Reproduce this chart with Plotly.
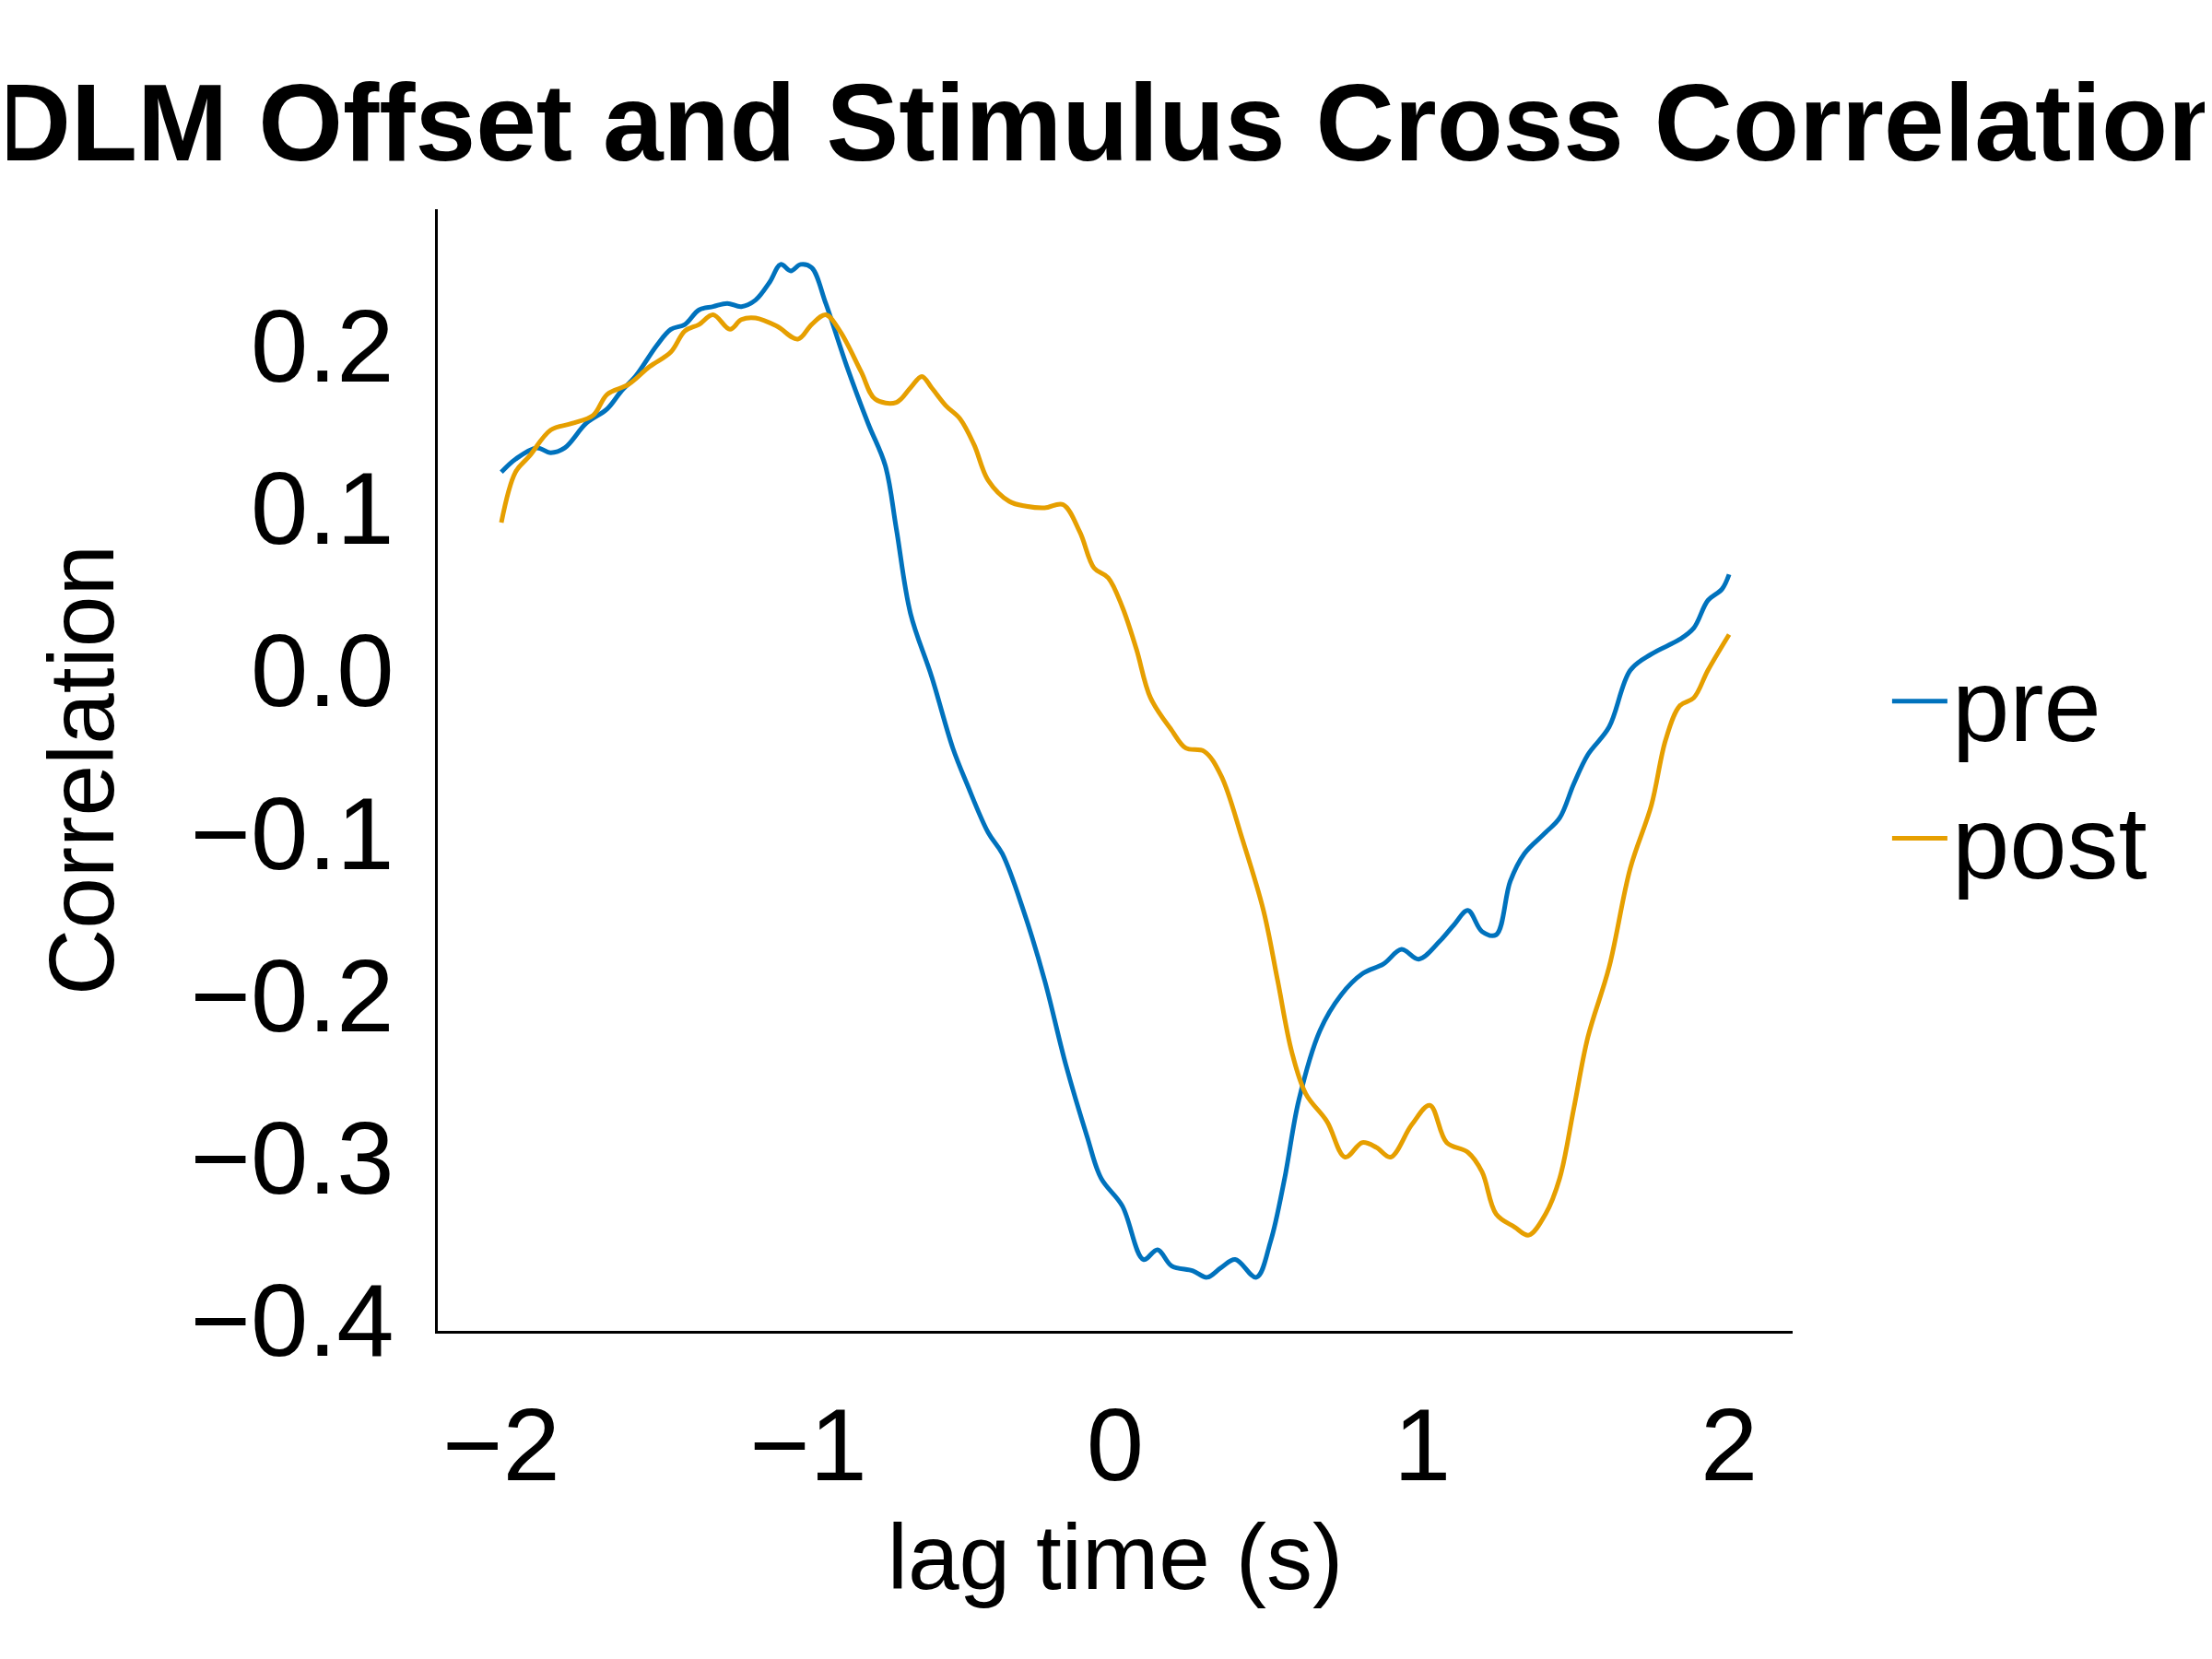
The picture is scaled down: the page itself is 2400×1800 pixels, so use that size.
import plotly.graph_objects as go

pre_t = [-2.00, -1.954, -1.885, -1.839, -1.793, -1.724, -1.655, -1.609, -1.563, -1.494, -1.448, -1.402,
         -1.356, -1.310, -1.264, -1.218, -1.172, -1.126, -1.090, -1.057, -1.025, -0.989, -0.943, -0.874,
         -0.805, -0.749, -0.713, -0.667, -0.598, -0.529, -0.483, -0.414, -0.368, -0.299, -0.230, -0.161,
         -0.092, -0.046, 0.023, 0.092, 0.138, 0.184, 0.253, 0.299, 0.345, 0.391, 0.460, 0.506, 0.552,
         0.598, 0.667, 0.736, 0.805, 0.874, 0.933, 0.989, 1.057, 1.103, 1.149, 1.195, 1.241, 1.287,
         1.333, 1.402, 1.448, 1.494, 1.540, 1.609, 1.678, 1.747, 1.839, 1.885, 1.931, 1.977, 2.000]
pre_r = [0.122, 0.130, 0.137, 0.134, 0.137, 0.152, 0.161, 0.172, 0.181, 0.200, 0.210, 0.213,
         0.222, 0.224, 0.226, 0.224, 0.228, 0.239, 0.250, 0.246, 0.250, 0.248, 0.226, 0.187,
         0.152, 0.126, 0.087, 0.035, -0.004, -0.048, -0.070, -0.100, -0.113, -0.148, -0.191, -0.243,
         -0.287, -0.313, -0.330, -0.363, -0.357, -0.367, -0.370, -0.374, -0.368, -0.363, -0.374, -0.352, -0.313,
         -0.265, -0.222, -0.200, -0.187, -0.181, -0.172, -0.178, -0.167, -0.157, -0.148, -0.161, -0.163, -0.130,
         -0.113, -0.100, -0.091, -0.070, -0.052, -0.035, 0.000, 0.010, 0.019, 0.026, 0.043, 0.050, 0.059]

post_t = [-2.00, -1.954, -1.908, -1.839, -1.770, -1.701, -1.655, -1.586, -1.517, -1.448, -1.402, -1.356,
          -1.310, -1.255, -1.218, -1.172, -1.103, -1.034, -0.989, -0.943, -0.897, -0.828, -0.782, -0.713,
          -0.667, -0.630, -0.598, -0.552, -0.506, -0.460, -0.414, -0.345, -0.290, -0.230, -0.170, -0.115,
          -0.069, -0.023, 0.023, 0.069, 0.115, 0.184, 0.230, 0.290, 0.345, 0.414, 0.483, 0.529, 0.575,
          0.621, 0.690, 0.749, 0.805, 0.851, 0.897, 0.966, 1.025, 1.080, 1.149, 1.195, 1.241, 1.301,
          1.347, 1.402, 1.448, 1.494, 1.540, 1.609, 1.678, 1.747, 1.793, 1.839, 1.885, 1.931, 2.000]
post_r = [0.091, 0.122, 0.132, 0.148, 0.152, 0.157, 0.170, 0.176, 0.187, 0.196, 0.209, 0.213,
          0.219, 0.210, 0.216, 0.217, 0.212, 0.204, 0.213, 0.219, 0.209, 0.184, 0.167, 0.165,
          0.174, 0.181, 0.174, 0.163, 0.155, 0.139, 0.117, 0.104, 0.101, 0.100, 0.102, 0.085,
          0.063, 0.057, 0.039, 0.013, -0.017, -0.037, -0.048, -0.050, -0.065, -0.104, -0.148, -0.191, -0.235,
          -0.261, -0.278, -0.300, -0.291, -0.294, -0.300, -0.280, -0.268, -0.291, -0.297, -0.309, -0.335, -0.343,
          -0.348, -0.335, -0.313, -0.270, -0.226, -0.183, -0.122, -0.083, -0.043, -0.022, -0.017, 0.000, 0.022]

x_ticks = [-2, -1, 0, 1, 2]
y_ticks = [-0.4, -0.3, -0.2, -0.1, 0.0, 0.1, 0.2]

fnt = "Liberation Sans, Arial, sans-serif"

fig = go.Figure()
fig.add_trace(go.Scatter(x=pre_t, y=pre_r, mode="lines", name="pre",
                         line=dict(color="#0072BD", width=5, shape="spline")))
fig.add_trace(go.Scatter(x=post_t, y=post_r, mode="lines", name="post",
                         line=dict(color="#E69F00", width=5, shape="spline")))

fig.update_layout(
    width=2400, height=1800,
    paper_bgcolor="white", plot_bgcolor="white",
    margin=dict(l=467, r=463, t=219, b=364),
    font=dict(family=fnt, size=112, color="black"),
    title=dict(text="<b>DLM Offset and Stimulus Cross Correlation</b>", x=0.5, xanchor="center",
               y=1 - 125 / 1800, yanchor="middle", font=dict(size=118)),
    legend=dict(x=1.07, y=0.5, xanchor="left", yanchor="middle", font=dict(size=112),
                bgcolor="rgba(0,0,0,0)", tracegroupgap=0, itemwidth=60),
    showlegend=True,
)
fig.update_xaxes(range=[-2.207, 2.207], tickvals=x_ticks, tickformat="d",
                 showgrid=False, zeroline=False, showline=True, linecolor="black", linewidth=3,
                 ticks="", ticklabelstandoff=25,
                 title=dict(text="lag time (s)", standoff=25, font=dict(size=100)))
fig.update_yaxes(range=[-0.407, 0.284], tickvals=y_ticks, tickformat=".1f",
                 showgrid=False, zeroline=False, showline=True, linecolor="black", linewidth=3,
                 ticks="", ticklabelstandoff=22,
                 title=dict(text="Correlation", standoff=50, font=dict(size=100)))

fig.write_html("out.html")
